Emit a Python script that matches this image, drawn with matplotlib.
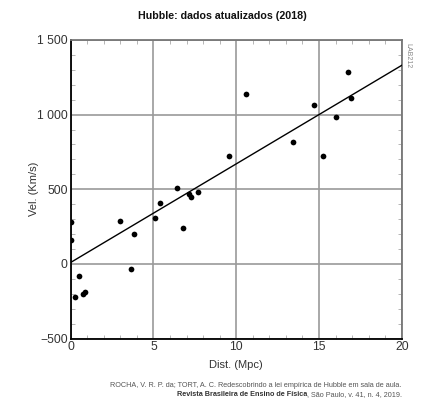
import matplotlib
matplotlib.use('Agg')
import matplotlib.pyplot as plt
from matplotlib.ticker import MultipleLocator, FuncFormatter

plt.rcParams['font.family'] = ['Liberation Sans', 'DejaVu Sans']

# galaxy distances (Mpc) and velocities (km/s)
dist = [0.02, 0.02, 0.24, 0.5, 0.74, 0.84, 2.97, 3.63, 3.83, 5.08, 5.42,
        6.43, 6.8, 7.15, 7.27, 7.71, 9.56, 10.56, 13.45, 14.7, 15.22,
        16.04, 16.73, 16.9]
vel = [280, 160, -220, -80, -203, -187, 288, -36, 203, 305, 408,
       510, 239, 466, 446, 481, 724, 1137, 814, 1066, 724,
       981, 1284, 1110]

# fitted line
fit_x = [0, 20]
fit_v = [10, 1330]

fig = plt.figure(figsize=(4.23, 4.11), dpi=100)
ax = fig.add_axes([0.167, 0.176, 0.783, 0.727])

ax.plot(fit_x, fit_v, color='black', lw=1.0, zorder=3)
ax.scatter(dist, vel, s=17, color='black', zorder=4, linewidths=0)

ax.set_xlim(0, 20)
ax.set_ylim(-500, 1500)
ax.xaxis.set_major_locator(MultipleLocator(5))
ax.xaxis.set_minor_locator(MultipleLocator(1))
ax.yaxis.set_major_locator(MultipleLocator(500))
ax.yaxis.set_minor_locator(MultipleLocator(100))
ax.yaxis.set_major_formatter(FuncFormatter(
    lambda v, p: ('\u2212' if v < 0 else '') + f'{abs(int(v)):,}'.replace(',', ' ')))

ax.grid(True, which='major', color='#9a9a9a', lw=1.2, zorder=1)
ax.tick_params(which='major', length=0, labelsize=8.7, colors='#333333', pad=2)
ax.tick_params(which='minor', direction='in', length=3, color='#aaaaaa',
               top=True, right=True)

for side in ['left', 'bottom']:
    ax.spines[side].set_color('black')
    ax.spines[side].set_linewidth(1.3)
for side in ['top', 'right']:
    ax.spines[side].set_color('#777777')
    ax.spines[side].set_linewidth(1.3)

ax.set_xlabel('Dist. (Mpc)', fontsize=8, color='#333333', labelpad=5)
ax.set_ylabel('Vel. (Km/s)', fontsize=8, color='#333333', labelpad=-1)
fig.text(0.525, 0.96, 'Hubble: dados atualizados (2018)', ha='center',
         va='center', fontsize=7.7, fontweight='bold', color='#111111')
fig.text(0.965, 0.895, 'LAB212', rotation=270, ha='center', va='top',
         fontsize=5, color='#888888')

fs = 5.2
fig.text(0.95, 0.063, 'ROCHA, V. R. P. da; TORT, A. C. Redescobrindo a lei empírica de Hubble em sala de aula.',
         ha='right', va='center', fontsize=fs, color='#555555')
t1 = 'Revista Brasileira de Ensino de Física'
t2 = ', São Paulo, v. 41, n. 4, 2019.'
tx = fig.text(0.95, 0.040, t2, ha='right', va='center', fontsize=fs, color='#555555')
fig.canvas.draw()
bb = tx.get_window_extent().transformed(fig.transFigure.inverted())
fig.text(bb.x0, 0.040, t1, ha='right', va='center', fontsize=fs,
         fontweight='bold', color='#333333')

fig.savefig('out.png', dpi=100)
